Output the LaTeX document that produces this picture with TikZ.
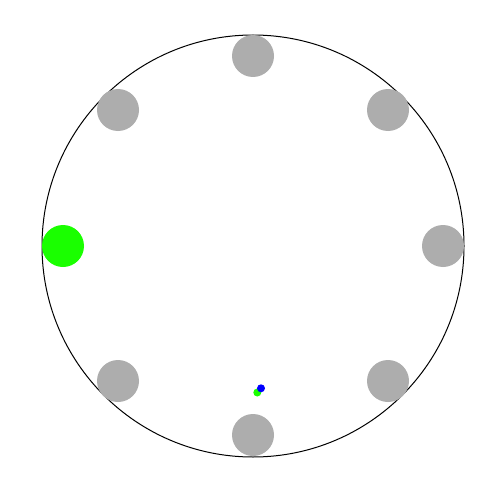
\documentclass[tikz,border=0pt]{standalone}
\begin{document}
\begin{tikzpicture}[x=1pt,y=-1pt,
  ring/.style={draw=black,line width=1pt},
  seat/.style={circle,fill=seatgray,minimum size=42pt,inner sep=0pt},
  active/.style={circle,fill=brightgreen,minimum size=42pt,inner sep=0pt},
  dotb/.style={circle,fill=blue,minimum size=8pt,inner sep=0pt},
  dotg/.style={circle,fill=brightgreen,minimum size=8pt,inner sep=0pt}]
\definecolor{seatgray}{RGB}{173,173,173}
\definecolor{brightgreen}{RGB}{26,255,0}
\useasboundingbox (0,0) rectangle (500,500);
\fill[white] (0,0) rectangle (500,500);
\coordinate (c) at (253,246);
\draw[ring] (c) circle[radius=211pt];
\node[seat] (s0) at (253,56) {};
\node[seat] (s1) at (388,110) {};
\node[seat] (s2) at (443,246) {};
\node[seat] (s3) at (388,381) {};
\node[seat] (s4) at (253,435) {};
\node[seat] (s5) at (118,381) {};
\node[active] (s6) at (63,246) {};
\node[seat] (s7) at (118,110) {};
\node[dotg] (g) at (257.3,392.5) {};
\node[dotb] (b) at (261,388.3) {};
\end{tikzpicture}
\end{document}
